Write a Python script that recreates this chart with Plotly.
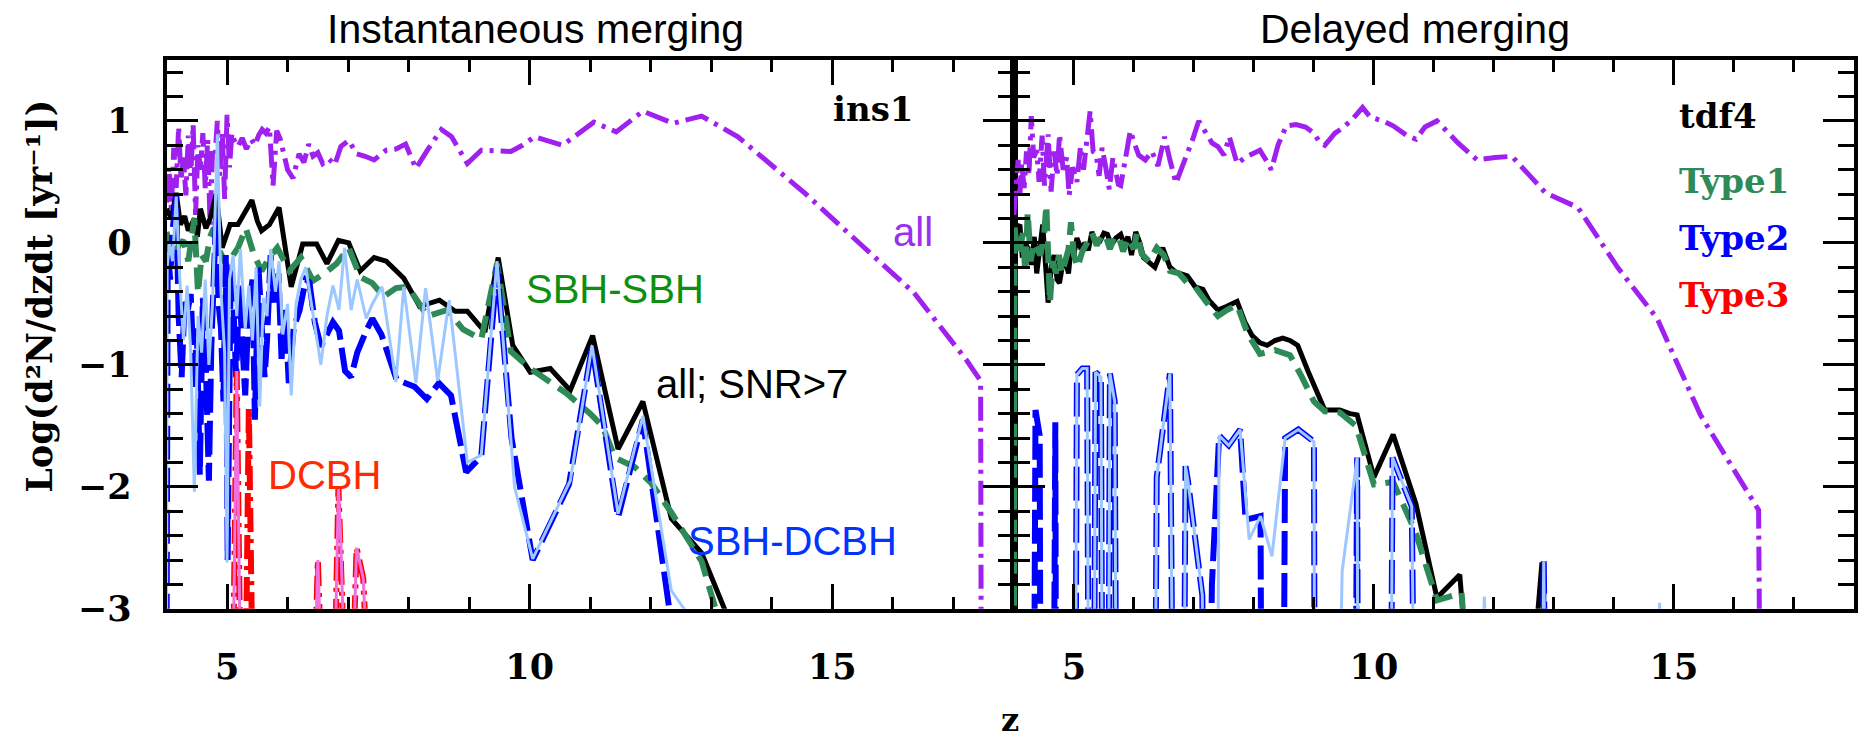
import plotly.graph_objects as go

W, H = 1858, 742

# ---------------- Instantaneous merging (ins1) : (z, log rate) ----------------
ins_all = [(4.00,0.33),(4.04,0.62),(4.08,0.28),(4.12,0.78),(4.16,0.45),(4.20,0.95),(4.24,0.52),(4.28,0.70),
           (4.32,0.39),(4.36,0.88),(4.40,0.55),(4.44,0.97),(4.48,0.23),(4.52,0.80),(4.56,0.60),(4.60,0.90),
           (4.64,0.45),(4.68,0.85),(4.72,0.15),(4.76,0.75),(4.80,0.70),(4.84,1.00),(4.88,0.55),(4.92,0.92),
           (4.96,0.36),(5.00,1.05),(5.04,0.62),(5.08,0.90),(5.12,0.84),(5.18,0.79),(5.25,0.86),(5.32,0.77),
           (5.40,0.85),(5.46,0.80),(5.52,0.88),(5.58,0.93),(5.64,0.90),(5.70,0.95),(5.76,0.47),(5.82,0.92),
           (5.88,0.85),(5.94,0.70),(6.00,0.60),(6.09,0.53),(6.19,0.73),(6.27,0.66),(6.35,0.81),(6.42,0.71),
           (6.50,0.74),(6.58,0.65),(6.68,0.69),(6.78,0.64),(6.88,0.79),(7.01,0.84),(7.14,0.73),(7.28,0.71),
           (7.43,0.68),(7.63,0.76),(7.79,0.77),(7.95,0.81),(8.12,0.61),(8.31,0.76),(8.54,0.93),(8.71,0.87),
           (8.97,0.65),(9.20,0.76),(9.45,0.76),(9.69,0.75),(9.88,0.80),(10.08,0.87),(10.54,0.80),(11.06,0.99),
           (11.43,0.91),(11.87,1.08),(12.37,0.98),(12.84,1.04),(13.44,0.87),(14.54,0.41),(15.53,-0.04),
           (16.35,-0.41),(17.23,-0.97),(17.45,-1.13),(17.46,-3.5)]

ins_snr = [(4.00,0.28),(4.08,0.20),(4.16,0.41),(4.23,0.15),(4.30,0.22),(4.36,0.10),(4.46,0.20),(4.51,0.05),
           (4.56,0.28),(4.65,0.12),(4.72,0.20),(4.82,0.40),(4.92,-0.04),(5.05,0.15),(5.18,0.15),(5.27,0.23),
           (5.41,0.35),(5.50,0.18),(5.57,0.10),(5.70,0.15),(5.86,0.29),(6.06,-0.36),(6.25,-0.01),(6.48,-0.01),
           (6.65,-0.17),(6.84,0.02),(7.01,0.00),(7.20,-0.23),(7.43,-0.12),(7.63,-0.15),(7.92,-0.29),(8.18,-0.52),
           (8.51,-0.47),(8.77,-0.56),(8.97,-0.56),(9.26,-0.73),(9.48,-0.12),(9.72,-0.84),(10.01,-1.06),
           (10.34,-1.03),(10.67,-1.21),(11.04,-0.76),(11.46,-1.69),(11.87,-1.30),(12.34,-2.26),(12.84,-2.54),
           (13.30,-3.10)]

ins_sbh = [(4.00,0.09),(4.06,-0.05),(4.13,-0.12),(4.20,-0.02),(4.28,0.02),(4.36,-0.15),(4.46,0.20),(4.52,-0.41),
           (4.58,-0.10),(4.65,-0.15),(4.72,0.05),(4.78,0.12),(4.88,-0.07),(5.01,-0.20),(5.10,-0.10),(5.18,-0.04),
           (5.31,0.12),(5.44,-0.09),(5.57,-0.23),(5.70,-0.12),(5.83,-0.04),(6.03,-0.23),(6.22,-0.12),(6.42,-0.31),
           (6.61,-0.25),(6.81,-0.17),(7.01,-0.04),(7.20,-0.28),(7.40,-0.33),(7.59,-0.44),(7.79,-0.37),(7.99,-0.36),
           (8.31,-0.60),(8.64,-0.55),(8.90,-0.71),(9.20,-0.79),(9.46,-0.17),(9.69,-0.89),(10.01,-1.03),(10.60,-1.23),
           (11.00,-1.40),(11.20,-1.50),(11.41,-1.76),(11.74,-1.84),(12.01,-1.97),(12.34,-2.21),(12.84,-2.61),
           (13.10,-3.05)]

ins_dcbh = [(4.00,-3.5),(4.02,-0.05),(4.06,-0.30),(4.10,0.10),(4.16,0.38),(4.20,-0.60),(4.25,-1.10),(4.30,-0.45),
            (4.35,-0.55),(4.40,-0.42),(4.46,-1.20),(4.50,-0.70),(4.55,-1.90),(4.60,-0.45),(4.65,-1.00),(4.70,-1.95),
            (4.74,-0.85),(4.78,-0.20),(4.82,0.25),(4.86,-0.50),(4.90,-0.70),(4.94,-1.30),(4.98,-0.10),(5.01,-2.60),
            (5.06,-0.20),(5.10,-0.45),(5.15,-1.10),(5.20,-0.35),(5.25,-0.90),(5.30,-1.25),(5.35,-0.60),(5.42,-0.30),
            (5.46,-1.45),(5.52,-0.20),(5.58,-0.75),(5.62,-1.10),(5.66,-0.80),(5.72,-0.10),(5.78,-0.50),(5.85,-0.25),
            (5.90,-0.95),(5.96,-0.55),(6.02,-1.15),(6.10,-0.70),(6.20,-0.55),(6.30,-0.30),(6.36,-0.32),(6.45,-0.65),
            (6.55,-0.85),(6.65,-0.75),(6.75,-0.65),(6.85,-0.72),(6.95,-1.05),(7.05,-1.10),(7.15,-0.90),(7.30,-0.72),
            (7.40,-0.62),(7.55,-0.75),(7.70,-0.98),(7.80,-1.12),(7.95,-1.15),(8.10,-1.18),(8.30,-1.28),(8.50,-1.15),
            (8.70,-1.25),(8.95,-1.88),(9.20,-1.75),(9.46,-0.20),(9.70,-1.60),(10.05,-2.60),(10.65,-1.98),
            (11.03,-0.85),(11.46,-2.25),(11.87,-1.45),(12.32,-3.05)]

ins_dcbh_lb = [(4.00,-3.5),(4.01,-0.20),(4.05,0.00),(4.10,-0.15),(4.16,0.38),(4.22,-0.30),(4.28,-0.80),(4.34,-0.35),
               (4.40,-0.90),(4.46,-2.04),(4.52,-0.60),(4.58,-0.90),(4.64,-0.30),(4.70,-1.00),(4.76,-0.50),(4.84,0.89),
               (4.90,-0.40),(4.96,-0.90),(5.00,-2.62),(5.04,-0.30),(5.10,-0.10),(5.16,-0.60),(5.22,-0.05),(5.30,-0.70),
               (5.36,-0.35),(5.42,-0.80),(5.48,-0.20),(5.54,-1.34),(5.60,-0.45),(5.66,-0.60),(5.72,-0.05),(5.80,-0.40),
               (5.86,-0.15),(5.92,-0.75),(6.00,-0.50),(6.06,-1.25),(6.14,-0.50),(6.22,-0.30),(6.30,-0.20),(6.38,-0.45),
               (6.46,-0.70),(6.55,-1.00),(6.65,-0.60),(6.75,-0.35),(6.85,-0.55),(6.94,-0.04),(7.05,-0.55),(7.15,-0.30),
               (7.30,-0.62),(7.40,-0.50),(7.56,-0.36),(7.79,-1.14),(7.92,-0.36),(8.12,-1.15),(8.28,-0.37),(8.48,-1.13),
               (8.67,-0.47),(8.84,-1.21),(8.97,-1.80),(9.20,-1.74),(9.46,-0.15),(9.75,-2.00),(10.05,-2.59),
               (10.67,-1.95),(11.03,-0.84),(11.46,-2.22),(11.87,-1.42),(12.34,-2.85),(12.62,-3.05)]

ins_dc = [(5.10,-3.5),(5.16,-1.05),(5.22,-3.5),(5.31,-3.5),(5.36,-1.35),(5.42,-3.5),(6.45,-3.5),(6.50,-2.60),
          (6.56,-3.5),(6.78,-3.5),(6.84,-2.00),(6.88,-2.45),(6.94,-3.5),(7.08,-3.5),(7.14,-2.50),(7.25,-2.75),
          (7.32,-3.5)]
ins_dc_pk = [(5.10,-3.5),(5.16,-1.05),(5.22,-3.5),(6.45,-3.5),(6.50,-2.60),(6.56,-3.5),(6.78,-3.5),(6.84,-2.00),
             (6.88,-2.45),(6.94,-3.5),(7.08,-3.5),(7.14,-2.50),(7.25,-2.75),(7.32,-3.5)]

# ---------------- Delayed merging (tdf4) ----------------
tdf_all = [(4.00,0.23),(4.04,0.55),(4.07,0.68),(4.10,0.40),(4.13,0.65),(4.17,0.45),(4.21,0.75),(4.25,0.55),
           (4.29,1.04),(4.33,0.70),(4.38,0.76),(4.42,0.50),(4.47,0.88),(4.51,0.47),(4.55,0.80),(4.57,0.89),
           (4.62,0.42),(4.67,0.75),(4.72,0.55),(4.76,0.89),(4.82,0.60),(4.88,0.70),(4.92,0.39),(4.98,0.62),
           (5.05,0.50),(5.11,0.79),(5.16,0.60),(5.22,0.82),(5.27,1.08),(5.32,0.75),(5.37,0.73),(5.42,0.55),
           (5.47,0.78),(5.53,0.62),(5.59,0.44),(5.65,0.70),(5.70,0.60),(5.74,0.48),(5.78,0.47),(5.84,0.62),
           (5.90,0.80),(5.94,0.92),(6.02,0.80),(6.08,0.72),(6.19,0.68),(6.30,0.75),(6.40,0.63),(6.51,0.87),
           (6.60,0.68),(6.70,0.49),(6.80,0.62),(6.89,0.73),(6.98,0.85),(7.08,1.00),(7.20,0.90),(7.30,0.82),
           (7.40,0.79),(7.50,0.72),(7.59,0.87),(7.72,0.65),(7.85,0.70),(7.95,0.72),(8.10,0.76),(8.20,0.68),
           (8.29,0.60),(8.40,0.80),(8.54,0.96),(8.70,0.97),(8.86,0.95),(9.00,0.90),(9.10,0.82),(9.18,0.80),
           (9.35,0.90),(9.50,0.95),(9.65,1.02),(9.81,1.11),(9.94,1.03),(10.15,1.00),(10.32,0.96),(10.55,0.88),
           (10.70,0.85),(10.85,0.95),(11.05,1.00),(11.40,0.82),(11.72,0.68),(12.02,0.70),(12.30,0.71),
           (12.86,0.41),(13.40,0.29),(14.06,-0.20),(14.72,-0.62),(15.44,-1.41),(16.41,-2.19),(16.43,-3.5)]

tdf_snr = [(4.00,-0.01),(4.05,0.12),(4.10,0.15),(4.14,-0.12),(4.19,0.00),(4.24,-0.05),(4.29,-0.18),(4.34,0.05),
           (4.38,-0.25),(4.44,0.02),(4.48,0.15),(4.53,-0.20),(4.57,-0.49),(4.62,-0.20),(4.67,-0.10),(4.72,-0.30),
           (4.76,-0.33),(4.81,-0.18),(4.86,-0.15),(4.91,-0.25),(4.95,-0.05),(5.00,-0.10),(5.05,0.04),(5.12,-0.05),
           (5.18,0.00),(5.24,-0.06),(5.30,0.09),(5.37,0.00),(5.43,0.01),(5.50,0.08),(5.56,0.07),(5.62,-0.02),
           (5.70,0.04),(5.78,0.07),(5.84,-0.02),(5.90,0.05),(5.96,-0.10),(6.03,0.09),(6.10,0.00),(6.16,-0.12),
           (6.25,-0.16),(6.35,-0.20),(6.48,-0.04),(6.60,-0.20),(6.70,-0.24),(6.89,-0.27),(7.02,-0.36),(7.15,-0.38),
           (7.25,-0.47),(7.40,-0.55),(7.55,-0.52),(7.72,-0.48),(7.85,-0.65),(7.97,-0.76),(8.10,-0.82),(8.22,-0.84),
           (8.35,-0.80),(8.48,-0.78),(8.60,-0.80),(8.73,-0.84),(8.90,-1.05),(9.05,-1.23),(9.18,-1.37),(9.43,-1.37),
           (9.60,-1.40),(9.72,-1.41),(10.00,-1.92),(10.32,-1.57),(10.70,-2.14),(11.05,-2.91),(11.43,-2.72),
           (11.56,-3.5),(12.65,-3.5),(12.80,-2.62),(12.86,-3.5)]

tdf_t1 = [(4.00,-3.5),(4.01,0.15),(4.05,-0.10),(4.10,-0.05),(4.15,0.08),(4.19,-0.25),(4.23,0.25),(4.28,-0.15),
          (4.33,0.00),(4.38,-0.05),(4.44,-0.10),(4.50,0.05),(4.54,0.31),(4.60,-0.49),(4.65,-0.15),(4.70,-0.25),
          (4.75,-0.10),(4.80,-0.25),(4.86,-0.15),(4.91,-0.05),(4.95,0.17),(5.00,-0.10),(5.06,-0.20),(5.14,-0.07),
          (5.22,0.00),(5.30,0.08),(5.38,-0.02),(5.45,0.05),(5.52,0.07),(5.60,-0.05),(5.68,0.06),(5.76,0.03),
          (5.82,-0.07),(5.90,0.04),(6.00,-0.05),(6.05,0.08),(6.13,-0.09),(6.25,-0.15),(6.38,-0.04),(6.50,-0.10),
          (6.60,-0.23),(6.75,-0.25),(6.89,-0.33),(7.02,-0.36),(7.20,-0.48),(7.40,-0.60),(7.55,-0.55),(7.72,-0.51),
          (7.90,-0.75),(8.10,-0.91),(8.35,-0.88),(8.60,-0.92),(8.80,-1.10),(9.00,-1.30),(9.18,-1.38),(9.43,-1.39),
          (9.70,-1.50),(10.00,-1.98),(10.32,-1.96),(10.70,-2.38),(11.05,-2.93),(11.46,-2.87),(11.56,-3.5)]

tdf_t2 = [(4.34,-3.5),(4.36,-1.37),(4.43,-1.58),(4.44,-3.5),(4.67,-3.5),(4.69,-1.47),(4.70,-3.5),(5.03,-3.5),
          (5.05,-1.08),(5.14,-1.03),(5.22,-1.03),(5.24,-3.5),(5.34,-3.5),(5.36,-1.06),(5.45,-1.10),(5.47,-3.5),
          (5.58,-3.5),(5.60,-1.07),(5.68,-1.30),(5.70,-3.5),(6.36,-3.5),(6.38,-1.92),(6.60,-1.07),(6.64,-3.5),
          (6.84,-3.5),(6.86,-1.83),(6.90,-1.95),(7.14,-2.89),(7.15,-3.5),(7.28,-3.5),(7.30,-2.80),(7.42,-1.58),
          (7.58,-1.66),(7.77,-1.53),(7.86,-2.27),(8.11,-2.24),(8.12,-3.5),(8.50,-3.5),(8.52,-1.60),(8.74,-1.53),
          (9.00,-1.63),(9.01,-3.5),(9.70,-3.5),(9.72,-1.76),(9.73,-3.5),(10.29,-3.5),(10.31,-1.76),(10.63,-2.16),
          (10.66,-3.5),(12.81,-3.5),(12.83,-2.61),(12.85,-3.5)]

tdf_t2_lb = [(5.03,-3.5),(5.05,-1.08),(5.14,-1.03),(5.22,-1.03),(5.24,-3.5),(5.34,-3.5),(5.36,-1.06),(5.45,-1.10),
             (5.47,-3.5),(5.58,-3.5),(5.60,-1.07),(5.68,-1.30),(5.70,-3.5),(6.36,-3.5),(6.38,-1.92),(6.60,-1.07),
             (6.64,-3.5),(6.84,-3.5),(6.86,-1.83),(6.90,-1.95),(7.14,-2.89),(7.15,-3.5),(7.40,-3.5),(7.42,-1.58),
             (7.58,-1.66),(7.77,-1.53),(7.92,-2.43),(8.11,-2.24),(8.30,-2.57),(8.52,-1.60),(8.74,-1.53),(9.00,-1.63),
             (9.01,-3.5),(9.44,-3.5),(9.47,-2.69),(9.72,-1.76),(9.73,-3.5),(10.29,-3.5),(10.31,-1.76),(10.63,-2.16),
             (10.66,-3.5),(11.80,-3.5),(11.84,-2.90),(11.88,-3.5),(12.81,-3.5),(12.83,-2.61),(12.85,-3.5),
             (14.74,-3.5),(14.76,-2.95),(14.78,-3.5)]

# ---------------- styles ----------------
PURPLE = "#a020f0"
BLACK = "#000000"
SEAGREEN = "#2e8b57"
BLUE = "#0000ff"
LIGHTBLUE = "#9cc8ff"
RED = "#ff0000"
PINK = "#f070e0"

SERIF = "DejaVu Serif"
SANS = "Liberation Sans"

fig = go.Figure()


def add(points, color, width, dash, xa, ya):
    zs = [p[0] for p in points]
    ys = [p[1] for p in points]
    fig.add_trace(go.Scatter(x=zs, y=ys, mode="lines", xaxis=xa, yaxis=ya,
                             line=dict(color=color, width=width, dash=dash),
                             hoverinfo="skip", showlegend=False))


DASHDOT = "24px,7px,4px,7px"
DASH = "22px,10px"
LONGDASH = "34px,8px"

# left panel
add(ins_all, PURPLE, 5, DASHDOT, "x", "y")
add(ins_snr, BLACK, 5, "solid", "x", "y")
add(ins_sbh, SEAGREEN, 6, DASH, "x", "y")
add(ins_dcbh, BLUE, 6, LONGDASH, "x", "y")
add(ins_dcbh_lb, LIGHTBLUE, 3, "solid", "x", "y")
add(ins_dc, RED, 6, DASHDOT, "x", "y")
add(ins_dc_pk, PINK, 3, "solid", "x", "y")

# right panel
add(tdf_all, PURPLE, 5, DASHDOT, "x2", "y2")
add(tdf_snr, BLACK, 5, "solid", "x2", "y2")
add(tdf_t1, SEAGREEN, 6, DASH, "x2", "y2")
add(tdf_t2, BLUE, 6, LONGDASH, "x2", "y2")
add(tdf_t2_lb, LIGHTBLUE, 3, "solid", "x2", "y2")

# ---------------- axes ----------------
x_split = 1015 / W
x_left = 166.7 / W
x_right = 1856 / W
y_bot = 1 - 625.7 / H
y_top = 1 - 61.6 / H

tickfont = dict(family=SERIF, size=35, color="black", weight="bold")

xcommon = dict(range=[4, 18], showline=True, linewidth=4, linecolor="black", mirror="allticks",
               ticks="inside", ticklen=25, tickwidth=3, tickcolor="black",
               tickmode="linear", tick0=5, dtick=5, tickfont=tickfont, ticklabelstandoff=24,
               minor=dict(ticks="inside", ticklen=12, tickwidth=3, tickcolor="black", dtick=1, tick0=4),
               showgrid=False, zeroline=False, fixedrange=True)
ycommon = dict(range=[-3, 1.5], domain=[y_bot, y_top], showline=True, linewidth=4, linecolor="black",
               mirror="allticks", ticks="inside", ticklen=31, tickwidth=3, tickcolor="black",
               tickmode="linear", tick0=0, dtick=1, tickfont=tickfont, ticklabelstandoff=24,
               minor=dict(ticks="inside", ticklen=16, tickwidth=3, tickcolor="black", dtick=0.2, tick0=0),
               showgrid=False, zeroline=False, fixedrange=True)

fig.update_layout(
    width=W, height=H,
    margin=dict(l=0, r=0, t=0, b=0),
    paper_bgcolor="white", plot_bgcolor="white",
    xaxis=dict(domain=[x_left, x_split], anchor="y", **xcommon),
    yaxis=dict(anchor="x", showticklabels=True, **ycommon),
    xaxis2=dict(domain=[x_split, x_right], anchor="y2", **xcommon),
    yaxis2=dict(anchor="x2", showticklabels=False, **ycommon),
)


def label(text, x, y, color, xref, yref, size=40, family=SANS, weight="normal", xanchor="left",
          yanchor="middle", angle=0):
    fig.add_annotation(text=text, x=x, y=y, xref=xref, yref=yref, showarrow=False,
                       xanchor=xanchor, yanchor=yanchor, textangle=angle,
                       font=dict(family=family, size=size, color=color, weight=weight))


# panel titles
label("Instantaneous merging", 536 / W, 1 - 30 / H, "black", "paper", "paper", size=41, xanchor="center")
label("Delayed merging", 1417 / W, 1 - 30 / H, "black", "paper", "paper", size=41, xanchor="center")

# left panel labels
label("ins1", 14.98, 1.10, "black", "x", "y", size=34, family=SERIF, weight="bold")
label("all", 15.97, 0.09, "#9b30f0", "x", "y")
label("SBH-SBH", 9.91, -0.38, "#0f8f0f", "x", "y")
label("all; SNR>7", 12.05, -1.16, "black", "x", "y")
label("DCBH", 5.64, -1.90, "#ff2a00", "x", "y")
label("SBH-DCBH", 12.58, -2.44, "#0035ff", "x", "y")

# right panel labels
label("tdf4", 15.05, 1.04, "black", "x2", "y2", size=34, family=SERIF, weight="bold")
label("Type1", 15.05, 0.51, SEAGREEN, "x2", "y2", size=34, family=SERIF, weight="bold")
label("Type2", 15.05, 0.04, BLUE, "x2", "y2", size=34, family=SERIF, weight="bold")
label("Type3", 15.05, -0.43, RED, "x2", "y2", size=34, family=SERIF, weight="bold")

# axis titles
label("Log(d²N/dzdt [yr⁻¹])", 40 / W, 1 - 304 / H, "black", "paper", "paper", size=35,
      family=SERIF, weight="bold", xanchor="center", angle=-90)
label("z", 1011 / W, 1 - 740 / H, "black", "paper", "paper", size=32, family=SERIF, weight="bold",
      xanchor="center")

fig.write_html("out.html")
